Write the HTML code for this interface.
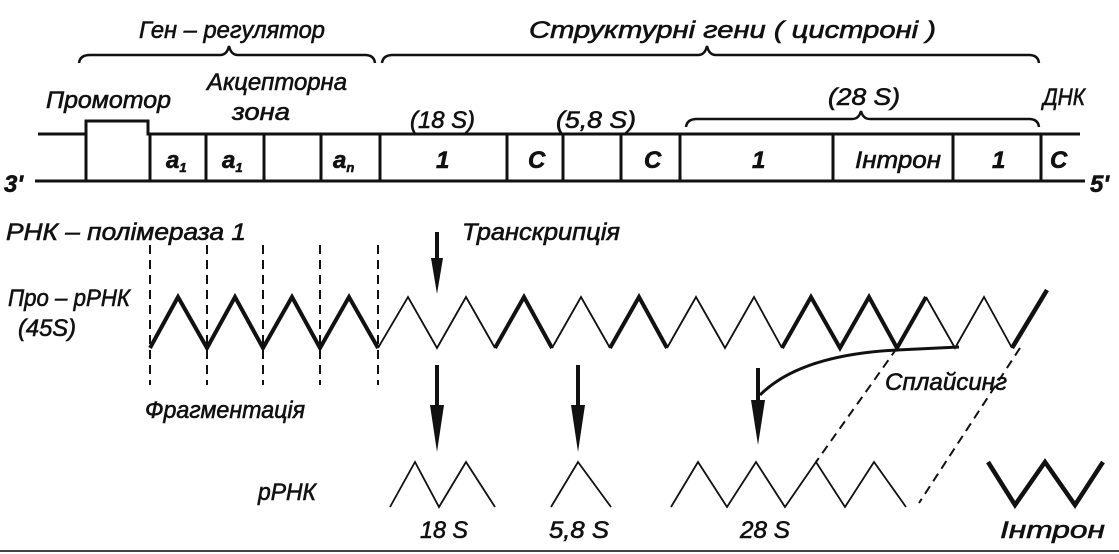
<!DOCTYPE html>
<html><head><meta charset="utf-8"><style>
html,body{margin:0;padding:0;background:#fff;}
svg{display:block;}
text{font-family:"Liberation Sans",sans-serif;font-style:italic;font-size:24px;fill:#111;}
</style></head><body>
<svg width="1119" height="554" viewBox="0 0 1119 554" xmlns="http://www.w3.org/2000/svg">
<g fill="none" stroke="#111" stroke-width="3" stroke-linejoin="miter">
<path d="M79,63 Q80,55 90,55 L220,55 Q227,55 229,46 Q231,55 238,55 L365,55 Q374,55 375,63" stroke-width="2.5"/>
<path d="M382,63 Q383,55 393,55 L698,55 Q705,55 707,46 Q709,55 716,55 L1029,55 Q1038,55 1039,63" stroke-width="2.5"/>
<path d="M686,127 Q687,119 697,119 L852,119 Q859,119 861,111 Q863,119 870,119 L1029,119 Q1038,119 1039,127" stroke-width="2.5"/>
<path d="M38,134 L86,134 M86,180 L86,121 L148,121 L148,134 L1080,134"/>
<path d="M35,181 L1085,181"/>
<path d="M150,134 V181 M206,134 V181 M264,134 V181 M321,134 V181 M380,134 V181 M507,134 V181 M563,134 V181 M621,134 V181 M680,134 V181 M833,134 V181 M953,134 V181 M1041,134 V181"/>
<g stroke-width="2" stroke-dasharray="9,6">
<path d="M150,245 V385 M207,245 V385 M263,245 V385 M320,245 V385 M378,245 V385"/>
<path d="M897,348 L816,462 M1020,348 L919,503"/>
</g>
<path d="M150,348 L178,297 L207,348 L235,297 L263,348 L292,297 L320,348 L349,297 L378,348" stroke-width="4"/>
<path d="M378,348 L408,297 L437,348 L466,297 L495,348" stroke-width="1.8"/>
<path d="M495,348 L524,297 L552,348" stroke-width="4"/>
<path d="M552,348 L581,297 L610,348" stroke-width="1.8"/>
<path d="M610,348 L639,297 L667,348" stroke-width="4"/>
<path d="M667,348 L696,297 L725,348 L754,297 L782,348" stroke-width="1.8"/>
<path d="M782,348 L811,297 L840,348 L869,297 L897,348 L926,297" stroke-width="4"/>
<path d="M926,297 L955,348 L984,297 L1012,348" stroke-width="1.8"/>
<path d="M1012,348 L1047,290" stroke-width="4.5"/>
<path d="M959,347 L897,350 Q800,355 760,395" stroke-width="3"/>
<path d="M437,232 V262 M437,365 V420 M578,365 V420 M758,368 V418" stroke-width="4"/>
<path d="M390,507 L415,462 L439,507 L466,462 L495,507" stroke-width="1.8"/>
<path d="M551,507 L578,462 L611,507" stroke-width="1.8"/>
<path d="M671,507 L698,462 L727,507 L756,462 L785,507 L816,462 L845,507 L874,462 L906,507" stroke-width="1.8"/>
<path d="M988,462 L1015,505 L1045,462 L1075,505 L1103,462" stroke-width="4.5"/>
<path d="M0,551 H1119" stroke-width="2" stroke="#444"/>
</g>
<g fill="#111">
<polygon points="431,258 443,258 437,294"/>
<polygon points="430,405 444,405 437,452"/>
<polygon points="571,405 585,405 578,452"/>
<polygon points="751,400 765,400 758,445"/>
</g>
<g stroke="#111" stroke-width="0.6">
<text x="139" y="38" textLength="186" lengthAdjust="spacingAndGlyphs">Ген – регулятор</text>
<text x="529" y="38" textLength="407" lengthAdjust="spacingAndGlyphs">Структурні  гени  ( цистроні )</text>
<text x="46" y="108" textLength="125" lengthAdjust="spacingAndGlyphs">Промотор</text>
<text x="207" y="90" textLength="140" lengthAdjust="spacingAndGlyphs">Акцепторна</text>
<text x="232" y="120" textLength="58" lengthAdjust="spacingAndGlyphs">зона</text>
<text x="410" y="128" textLength="65" lengthAdjust="spacingAndGlyphs">(18 S)</text>
<text x="556" y="128" textLength="80" lengthAdjust="spacingAndGlyphs">(5,8 S)</text>
<text x="828" y="105" textLength="72" lengthAdjust="spacingAndGlyphs">(28 S)</text>
<text x="1043" y="105" textLength="42" lengthAdjust="spacingAndGlyphs">ДНК</text>
<text x="4" y="192" font-weight="bold">3'</text>
<text x="1090" y="192" font-weight="bold">5'</text>
<text x="166" y="168" font-weight="bold">a<tspan font-size="13" dy="4">1</tspan></text>
<text x="222" y="168" font-weight="bold">a<tspan font-size="13" dy="4">1</tspan></text>
<text x="333" y="168" font-weight="bold">a<tspan font-size="13" dy="4">n</tspan></text>
<text x="436" y="168" font-weight="bold">1</text>
<text x="528" y="168" font-weight="bold">C</text>
<text x="644" y="168" font-weight="bold">C</text>
<text x="752" y="168" font-weight="bold">1</text>
<text x="855" y="168" textLength="86" lengthAdjust="spacingAndGlyphs">Інтрон</text>
<text x="992" y="168" font-weight="bold">1</text>
<text x="1050" y="168" font-weight="bold">C</text>
<text x="6" y="240" textLength="240" lengthAdjust="spacingAndGlyphs">РНК – полімераза  1</text>
<text x="462" y="240" textLength="158" lengthAdjust="spacingAndGlyphs">Транскрипція</text>
<text x="8" y="306" textLength="122" lengthAdjust="spacingAndGlyphs">Про – рРНК</text>
<text x="18" y="336" textLength="58" lengthAdjust="spacingAndGlyphs">(45S)</text>
<text x="145" y="418" textLength="160" lengthAdjust="spacingAndGlyphs">Фрагментація</text>
<text x="885" y="390" textLength="122" lengthAdjust="spacingAndGlyphs">Сплайсинг</text>
<text x="258" y="500" textLength="58" lengthAdjust="spacingAndGlyphs">рРНК</text>
<text x="420" y="538" textLength="48" lengthAdjust="spacingAndGlyphs">18 S</text>
<text x="549" y="538" textLength="60" lengthAdjust="spacingAndGlyphs">5,8 S</text>
<text x="740" y="538" textLength="50" lengthAdjust="spacingAndGlyphs">28 S</text>
<text x="1000" y="538" textLength="105" lengthAdjust="spacingAndGlyphs">Інтрон</text>
</g>
</svg>
</body></html>
